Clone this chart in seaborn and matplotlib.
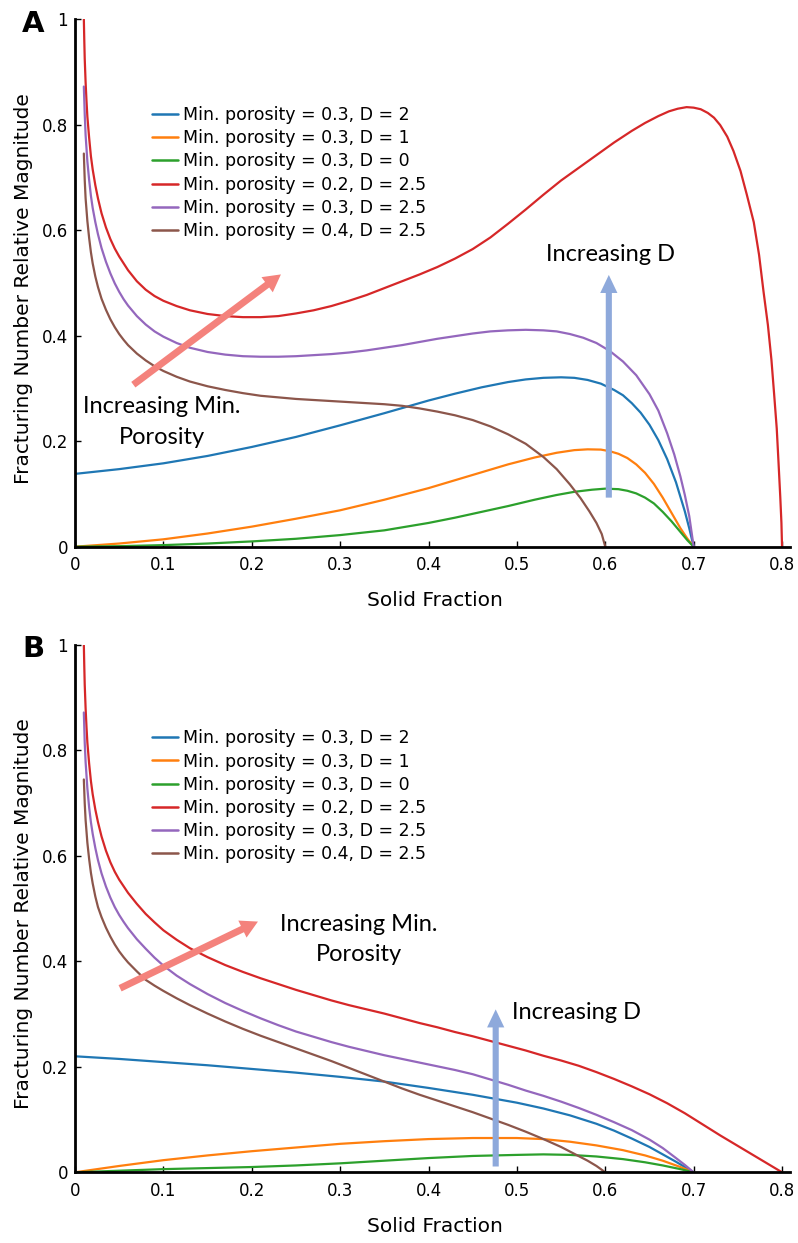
import matplotlib
matplotlib.use("Agg")
import matplotlib.pyplot as plt
import pandas as pd
import seaborn as sns

# ---------------------------------------------------------------- labels
series_labels = [
    "Min. porosity = 0.3, D = 2",
    "Min. porosity = 0.3, D = 1",
    "Min. porosity = 0.3, D = 0",
    "Min. porosity = 0.2, D = 2.5",
    "Min. porosity = 0.3, D = 2.5",
    "Min. porosity = 0.4, D = 2.5",
]
series_colors = ["#1f77b4", "#ff7f0e", "#2ca02c", "#d62728", "#9467bd", "#8c564b"]

x_ticks = [0, 0.1, 0.2, 0.3, 0.4, 0.5, 0.6, 0.7, 0.8]
x_tick_labels = ["0", "0.1", "0.2", "0.3", "0.4", "0.5", "0.6", "0.7", "0.8"]
y_ticks = [0, 0.2, 0.4, 0.6, 0.8, 1.0]
y_tick_labels = ["0", "0.2", "0.4", "0.6", "0.8", "1"]

x_title = "Solid Fraction"
y_title = "Fracturing Number Relative Magnitude"

# ---------------------------------------------------------------- panel A
a_blue_x = [0, 0.05, 0.10, 0.15, 0.20, 0.25, 0.30, 0.35, 0.40, 0.43, 0.46, 0.49,
            0.51, 0.53, 0.55, 0.565, 0.58, 0.595, 0.61, 0.62, 0.63, 0.64, 0.65,
            0.66, 0.67, 0.68, 0.69, 0.695, 0.70]
a_blue_y = [0.138, 0.147, 0.158, 0.172, 0.189, 0.208, 0.230, 0.253, 0.277, 0.290,
            0.302, 0.312, 0.317, 0.320, 0.321, 0.320, 0.316, 0.309, 0.297, 0.287,
            0.272, 0.254, 0.231, 0.202, 0.166, 0.122, 0.067, 0.035, 0.0]

a_orange_x = [0, 0.05, 0.10, 0.15, 0.20, 0.25, 0.30, 0.35, 0.40, 0.43, 0.46, 0.49,
              0.52, 0.545, 0.565, 0.58, 0.595, 0.605, 0.615, 0.625, 0.635, 0.645,
              0.655, 0.665, 0.675, 0.685, 0.693, 0.70]
a_orange_y = [0.0, 0.006, 0.014, 0.025, 0.038, 0.053, 0.069, 0.089, 0.111, 0.126,
              0.141, 0.156, 0.169, 0.178, 0.183, 0.1845, 0.184, 0.181, 0.176, 0.168,
              0.156, 0.140, 0.119, 0.093, 0.064, 0.035, 0.015, 0.0]

a_green_x = [0, 0.05, 0.10, 0.15, 0.20, 0.25, 0.30, 0.35, 0.40, 0.43, 0.46, 0.49,
             0.52, 0.545, 0.565, 0.585, 0.60, 0.615, 0.625, 0.635, 0.645, 0.655,
             0.665, 0.675, 0.685, 0.693, 0.70]
a_green_y = [0.0, 0.001, 0.003, 0.006, 0.010, 0.015, 0.022, 0.031, 0.045, 0.055,
             0.066, 0.077, 0.089, 0.098, 0.104, 0.108, 0.110, 0.109, 0.106, 0.101,
             0.093, 0.082, 0.066, 0.048, 0.028, 0.012, 0.0]

a_red_x = [0.010, 0.0105, 0.011, 0.012, 0.013, 0.014, 0.016, 0.018, 0.020, 0.023,
           0.026, 0.030, 0.035, 0.040, 0.045, 0.050, 0.060, 0.070, 0.080, 0.090,
           0.100, 0.115, 0.130, 0.150, 0.170, 0.190, 0.210, 0.230, 0.250, 0.270,
           0.290, 0.310, 0.330, 0.350, 0.370, 0.390, 0.410, 0.430, 0.450, 0.470,
           0.490, 0.510, 0.530, 0.550, 0.570, 0.590, 0.610, 0.630, 0.645, 0.660,
           0.672, 0.682, 0.692, 0.700, 0.708, 0.716, 0.723, 0.730, 0.738, 0.745,
           0.753, 0.760, 0.768, 0.774, 0.779, 0.784, 0.788, 0.791, 0.794, 0.796,
           0.798, 0.7993, 0.800]
a_red_y = [1.000, 0.960, 0.925, 0.880, 0.845, 0.815, 0.775, 0.740, 0.715, 0.685,
           0.660, 0.632, 0.605, 0.583, 0.565, 0.550, 0.524, 0.503, 0.487, 0.475,
           0.466, 0.456, 0.448, 0.441, 0.437, 0.435, 0.435, 0.437, 0.442, 0.448,
           0.456, 0.466, 0.477, 0.490, 0.503, 0.516, 0.530, 0.546, 0.564, 0.586,
           0.612, 0.639, 0.667, 0.694, 0.718, 0.742, 0.766, 0.788, 0.803, 0.816,
           0.825, 0.830, 0.833, 0.832, 0.829, 0.822, 0.813, 0.799, 0.777, 0.750,
           0.712, 0.668, 0.615, 0.553, 0.484, 0.420, 0.354, 0.290, 0.224, 0.160,
           0.094, 0.045, 0.0]

a_purple_x = [0.010, 0.011, 0.012, 0.014, 0.016, 0.018, 0.020, 0.023, 0.026, 0.030,
              0.035, 0.040, 0.045, 0.050, 0.055, 0.060, 0.070, 0.080, 0.090, 0.100,
              0.115, 0.130, 0.150, 0.170, 0.190, 0.210, 0.230, 0.250, 0.270, 0.290,
              0.310, 0.330, 0.350, 0.370, 0.390, 0.410, 0.430, 0.450, 0.470, 0.490,
              0.510, 0.530, 0.545, 0.560, 0.575, 0.590, 0.605, 0.620, 0.635, 0.650,
              0.660, 0.670, 0.678, 0.685, 0.690, 0.695, 0.700]
a_purple_y = [0.872, 0.820, 0.780, 0.730, 0.695, 0.665, 0.642, 0.615, 0.592, 0.566,
              0.540, 0.518, 0.499, 0.483, 0.469, 0.457, 0.437, 0.421, 0.408, 0.398,
              0.386, 0.377, 0.369, 0.364, 0.361, 0.360, 0.360, 0.361, 0.363, 0.365,
              0.368, 0.372, 0.377, 0.382, 0.388, 0.394, 0.399, 0.404, 0.408, 0.410,
              0.411, 0.410, 0.408, 0.403, 0.396, 0.386, 0.371, 0.351, 0.325, 0.289,
              0.258, 0.215, 0.175, 0.133, 0.098, 0.058, 0.0]

a_brown_x = [0.010, 0.011, 0.012, 0.014, 0.016, 0.018, 0.020, 0.023, 0.026, 0.030,
             0.035, 0.040, 0.045, 0.050, 0.055, 0.060, 0.070, 0.080, 0.090, 0.100,
             0.115, 0.130, 0.150, 0.170, 0.190, 0.210, 0.230, 0.250, 0.270, 0.290,
             0.310, 0.330, 0.350, 0.370, 0.390, 0.410, 0.430, 0.450, 0.470, 0.490,
             0.510, 0.530, 0.545, 0.560, 0.572, 0.582, 0.590, 0.596, 0.600]
a_brown_y = [0.745, 0.695, 0.660, 0.617, 0.585, 0.558, 0.537, 0.512, 0.492, 0.470,
             0.449, 0.431, 0.416, 0.403, 0.392, 0.382, 0.366, 0.353, 0.342, 0.333,
             0.322, 0.313, 0.304, 0.297, 0.291, 0.286, 0.283, 0.280, 0.278, 0.276,
             0.274, 0.272, 0.270, 0.267, 0.262, 0.256, 0.249, 0.240, 0.228, 0.213,
             0.195, 0.170, 0.147, 0.118, 0.092, 0.067, 0.045, 0.024, 0.0]

# ---------------------------------------------------------------- panel B
b_blue_x = [0, 0.05, 0.10, 0.15, 0.20, 0.25, 0.30, 0.35, 0.40, 0.45, 0.50, 0.53,
            0.56, 0.59, 0.61, 0.63, 0.65, 0.665, 0.68, 0.69, 0.70]
b_blue_y = [0.220, 0.215, 0.209, 0.203, 0.196, 0.189, 0.181, 0.172, 0.160, 0.147,
            0.132, 0.121, 0.108, 0.092, 0.079, 0.064, 0.048, 0.034, 0.020, 0.010, 0.0]

b_orange_x = [0, 0.05, 0.10, 0.15, 0.20, 0.25, 0.30, 0.35, 0.40, 0.45, 0.50, 0.53,
              0.56, 0.59, 0.62, 0.645, 0.665, 0.685, 0.70]
b_orange_y = [0.0, 0.012, 0.023, 0.032, 0.040, 0.047, 0.054, 0.059, 0.063, 0.065,
              0.065, 0.063, 0.058, 0.051, 0.042, 0.032, 0.022, 0.010, 0.0]

b_green_x = [0, 0.05, 0.10, 0.15, 0.20, 0.25, 0.30, 0.35, 0.40, 0.45, 0.50, 0.53,
             0.56, 0.59, 0.62, 0.645, 0.665, 0.685, 0.70]
b_green_y = [0.0, 0.003, 0.006, 0.008, 0.010, 0.013, 0.017, 0.022, 0.027, 0.031,
             0.033, 0.034, 0.033, 0.030, 0.025, 0.019, 0.013, 0.006, 0.0]

b_red_x = [0.010, 0.0105, 0.011, 0.012, 0.013, 0.014, 0.016, 0.018, 0.020, 0.023,
           0.026, 0.030, 0.035, 0.040, 0.045, 0.050, 0.060, 0.070, 0.080, 0.090,
           0.100, 0.115, 0.130, 0.150, 0.170, 0.190, 0.210, 0.230, 0.250, 0.270,
           0.290, 0.310, 0.330, 0.350, 0.370, 0.390, 0.410, 0.430, 0.450, 0.470,
           0.490, 0.510, 0.530, 0.550, 0.570, 0.590, 0.610, 0.630, 0.650, 0.670,
           0.690, 0.710, 0.730, 0.750, 0.770, 0.785, 0.800]
b_red_y = [1.000, 0.960, 0.925, 0.880, 0.845, 0.815, 0.775, 0.742, 0.717, 0.688,
           0.664, 0.637, 0.610, 0.588, 0.570, 0.555, 0.530, 0.509, 0.490, 0.474,
           0.459, 0.441, 0.425, 0.408, 0.393, 0.380, 0.368, 0.357, 0.346, 0.336,
           0.326, 0.317, 0.309, 0.301, 0.292, 0.283, 0.275, 0.266, 0.258, 0.249,
           0.240, 0.231, 0.221, 0.212, 0.202, 0.190, 0.177, 0.163, 0.148, 0.131,
           0.112, 0.091, 0.070, 0.050, 0.030, 0.015, 0.0]

b_purple_x = [0.010, 0.011, 0.012, 0.014, 0.016, 0.018, 0.020, 0.023, 0.026, 0.030,
              0.035, 0.040, 0.045, 0.050, 0.055, 0.060, 0.070, 0.080, 0.090, 0.100,
              0.115, 0.130, 0.150, 0.170, 0.190, 0.210, 0.230, 0.250, 0.270, 0.290,
              0.310, 0.330, 0.350, 0.370, 0.390, 0.410, 0.430, 0.450, 0.470, 0.490,
              0.510, 0.530, 0.550, 0.570, 0.590, 0.610, 0.630, 0.650, 0.665, 0.680,
              0.690, 0.700]
b_purple_y = [0.872, 0.815, 0.778, 0.728, 0.692, 0.664, 0.642, 0.615, 0.592, 0.567,
              0.542, 0.521, 0.503, 0.488, 0.475, 0.463, 0.442, 0.424, 0.407, 0.392,
              0.373, 0.357, 0.338, 0.321, 0.306, 0.292, 0.279, 0.267, 0.257, 0.247,
              0.238, 0.230, 0.222, 0.215, 0.208, 0.201, 0.194, 0.186, 0.176, 0.166,
              0.155, 0.145, 0.134, 0.122, 0.109, 0.095, 0.080, 0.062, 0.046, 0.027,
              0.014, 0.0]

b_brown_x = [0.010, 0.011, 0.012, 0.014, 0.016, 0.018, 0.020, 0.023, 0.026, 0.030,
             0.035, 0.040, 0.045, 0.050, 0.055, 0.060, 0.070, 0.080, 0.090, 0.100,
             0.115, 0.130, 0.150, 0.170, 0.190, 0.210, 0.230, 0.250, 0.270, 0.290,
             0.310, 0.330, 0.350, 0.370, 0.390, 0.410, 0.430, 0.450, 0.470, 0.490,
             0.510, 0.530, 0.550, 0.565, 0.580, 0.590, 0.600]
b_brown_y = [0.745, 0.700, 0.668, 0.625, 0.594, 0.568, 0.548, 0.523, 0.503, 0.484,
             0.464, 0.447, 0.432, 0.419, 0.408, 0.398, 0.381, 0.365, 0.354, 0.344,
             0.330, 0.317, 0.301, 0.286, 0.272, 0.259, 0.247, 0.235, 0.223, 0.211,
             0.198, 0.185, 0.172, 0.159, 0.147, 0.136, 0.125, 0.114, 0.102, 0.090,
             0.077, 0.063, 0.048, 0.035, 0.022, 0.012, 0.0]

# ---------------------------------------------------------------- styling
sns.set_theme(style="ticks", rc={"text.color": "black", "axes.labelcolor": "black",
                                 "xtick.color": "black", "ytick.color": "black",
                                 "axes.edgecolor": "black"})
plt.rcParams["font.family"] = ["DejaVu Sans"]
note_font = ["Lato", "DejaVu Sans"]
pink = "#F4827C"
steel = "#8EA9DB"


def long_frame(xs_list, ys_list):
    parts = []
    for label, xs, ys in zip(series_labels, xs_list, ys_list):
        parts.append(pd.DataFrame({"solid": xs, "magnitude": ys, "series": label}))
    return pd.concat(parts, ignore_index=True)


def draw_panel(ax, frame, legend_anchor):
    sns.lineplot(data=frame, x="solid", y="magnitude", hue="series",
                 hue_order=series_labels, palette=series_colors,
                 estimator=None, sort=False, linewidth=1.6, ax=ax)
    for line in ax.get_lines():
        line.set_solid_joinstyle("round")
    ax.set_xlim(0, 0.809)
    ax.set_ylim(0, 1.0)
    ax.set_xticks(x_ticks)
    ax.set_xticklabels(x_tick_labels)
    ax.set_yticks(y_ticks)
    ax.set_yticklabels(y_tick_labels)
    ax.tick_params(axis="x", direction="in", length=4, width=1, pad=7,
                   labelsize=12, colors="black")
    ax.tick_params(axis="y", direction="in", length=4, width=1, pad=5,
                   labelsize=12, colors="black")
    for side in ("top", "right"):
        ax.spines[side].set_visible(False)
    for side in ("left", "bottom"):
        ax.spines[side].set_linewidth(2.0)
        ax.spines[side].set_color("black")
    ax.set_xlabel(x_title, fontsize=14.5, color="black")
    ax.set_ylabel(y_title, fontsize=14.5, color="black")
    ax.xaxis.set_label_coords(0.503, -0.084)
    ax.yaxis.set_label_coords(-0.059, 0.49)
    sns.move_legend(ax, "upper left", bbox_to_anchor=legend_anchor,
                    frameon=False, title=None, fontsize=12.5,
                    handlelength=1.5, handletextpad=0.3, labelspacing=0.3,
                    borderpad=0, borderaxespad=0)
    leg = ax.get_legend()
    for line in leg.get_lines():
        line.set_linewidth(1.8)
    for txt in leg.get_texts():
        txt.set_color("black")


def arrow(ax, tail, head, color, tail_w, head_w, head_l):
    style = f"simple,head_length={head_l},head_width={head_w},tail_width={tail_w}"
    ax.annotate("", xy=head, xytext=tail,
                arrowprops=dict(arrowstyle=style, color=color, lw=0,
                                shrinkA=0, shrinkB=0, mutation_scale=20),
                zorder=6)


fig = plt.figure(figsize=(7.98, 12.43), dpi=100)
W, H = 798.0, 1243.0
ax_a = fig.add_axes([75 / W, (H - 546.7) / H, 715 / W, 527.7 / H])
ax_b = fig.add_axes([75 / W, (H - 1172.3) / H, 715 / W, 527.3 / H])

frame_a = long_frame([a_blue_x, a_orange_x, a_green_x, a_red_x, a_purple_x, a_brown_x],
                     [a_blue_y, a_orange_y, a_green_y, a_red_y, a_purple_y, a_brown_y])
frame_b = long_frame([b_blue_x, b_orange_x, b_green_x, b_red_x, b_purple_x, b_brown_x],
                     [b_blue_y, b_orange_y, b_green_y, b_red_y, b_purple_y, b_brown_y])

draw_panel(ax_a, frame_a, (0.108, 0.835))
draw_panel(ax_b, frame_b, (0.108, 0.840))

# panel A notes
arrow(ax_a, (0.066, 0.307), (0.233, 0.516), pink, 0.25, 0.68, 0.62)
arrow(ax_a, (0.604, 0.093), (0.604, 0.515), steel, 0.22, 0.62, 0.65)
ax_a.text(0.098, 0.253, "Increasing Min.", ha="center", va="baseline",
          fontsize=17, family=note_font, color="black")
ax_a.text(0.098, 0.195, "Porosity", ha="center", va="baseline",
          fontsize=17, family=note_font, color="black")
ax_a.text(0.606, 0.541, "Increasing D", ha="center", va="baseline",
          fontsize=17, family=note_font, color="black")

# panel B notes
arrow(ax_b, (0.051, 0.349), (0.207, 0.4755), pink, 0.25, 0.68, 0.62)
arrow(ax_b, (0.476, 0.011), (0.476, 0.309), steel, 0.22, 0.62, 0.65)
ax_b.text(0.321, 0.458, "Increasing Min.", ha="center", va="baseline",
          fontsize=17, family=note_font, color="black")
ax_b.text(0.321, 0.400, "Porosity", ha="center", va="baseline",
          fontsize=17, family=note_font, color="black")
ax_b.text(0.494, 0.291, "Increasing D", ha="left", va="baseline",
          fontsize=17, family=note_font, color="black")

# panel letters
fig.text(22 / W, 1 - 32 / H, "A", ha="left", va="baseline",
         fontsize=21, fontweight="bold", color="black")
fig.text(22 / W, 1 - 656.7 / H, "B", ha="left", va="baseline",
         fontsize=21, fontweight="bold", color="black")

fig.savefig("out.png", dpi=100)
